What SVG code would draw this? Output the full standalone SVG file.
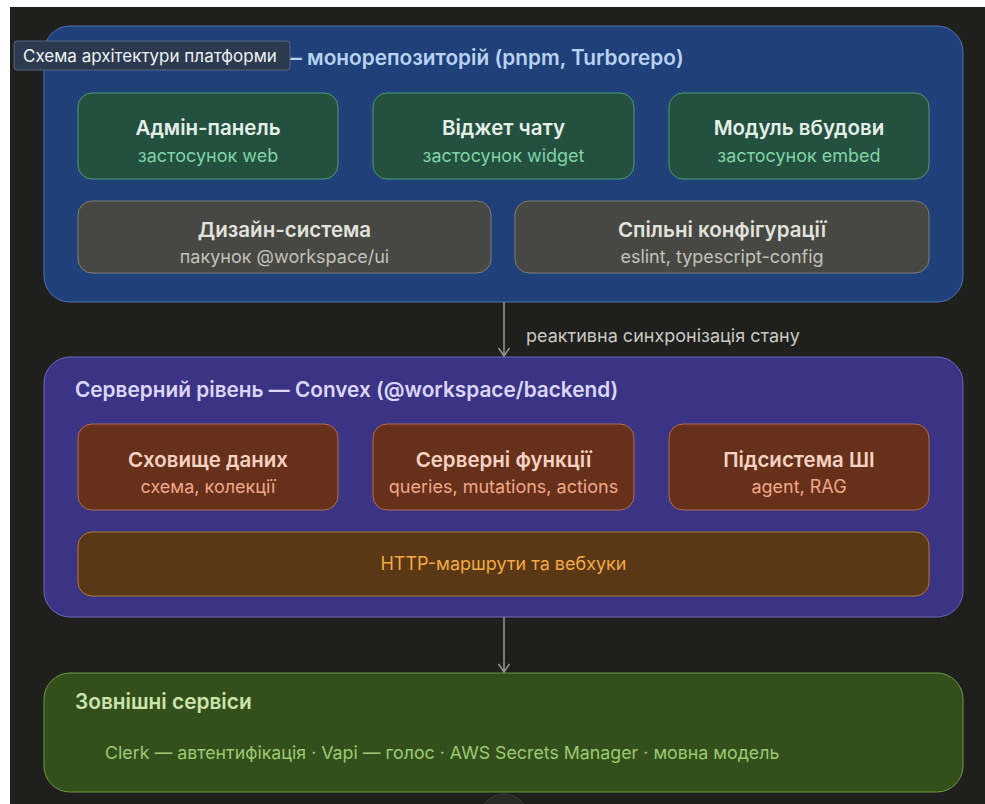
<svg xmlns="http://www.w3.org/2000/svg" width="985" height="804" viewBox="0 0 985 804">
<defs>
<marker id="arr" viewBox="0 0 10 12" refX="9" refY="6" markerWidth="10" markerHeight="12" markerUnits="userSpaceOnUse" orient="auto">
<path d="M1,0.5 L9,6 L1,11.5" fill="none" stroke="#9a9a94" stroke-width="1.5"/>
</marker>
</defs>
<style>
text{font-family:Inter,"Noto Sans",sans-serif}
.ptitle{font-size:20.8px;font-weight:600}
.ntitle{font-size:20.5px;font-weight:600;text-anchor:middle}
.nsub{font-size:18px;text-anchor:middle}
.green rect{fill:#245040;stroke:#4f9a76;stroke-width:1}
.green .ntitle{fill:#e4efe8}
.green .nsub{fill:#7fd4a6}
.gray rect{fill:#474743;stroke:#7e7e78;stroke-width:1}
.gray .ntitle{fill:#e2e2dc}
.gray .nsub{fill:#c2c2ba}
.brown rect{fill:#67301b;stroke:#b06a4c;stroke-width:1}
.brown .ntitle{fill:#f6d2c2}
.brown .nsub{fill:#f0a888}
.edge{stroke:#9a9a94;stroke-width:1.5;fill:none}
</style>
<rect x="0" y="0" width="985" height="804" fill="#ffffff"/>
<rect x="10" y="7" width="975" height="797" fill="#1f1f1e"/>

<g id="frontend">
<rect x="44" y="26" width="919" height="276" rx="26" fill="#1f4078" stroke="#4c74ad" stroke-width="1"/>
<text class="ptitle" x="281" y="65" fill="#b9d2f2">— монорепозиторій (pnpm, Turborepo)</text>
</g>
<g id="admin" class="green">
<rect x="78" y="93" width="260" height="86" rx="14"/>
<text class="ntitle" x="208" y="135">Адмін-панель</text>
<text class="nsub" x="208" y="162">застосунок web</text>
</g>
<g id="widget" class="green">
<rect x="373" y="93" width="261" height="86" rx="14"/>
<text class="ntitle" x="503.5" y="135">Віджет чату</text>
<text class="nsub" x="503.5" y="162">застосунок widget</text>
</g>
<g id="embed" class="green">
<rect x="669" y="93" width="260" height="86" rx="14"/>
<text class="ntitle" x="799" y="135">Модуль вбудови</text>
<text class="nsub" x="799" y="162">застосунок embed</text>
</g>
<g id="ui" class="gray">
<rect x="78" y="201" width="413" height="72" rx="14"/>
<text class="ntitle" x="284.5" y="237">Дизайн-система</text>
<text class="nsub" x="284.5" y="263">пакунок @workspace/ui</text>
</g>
<g id="configs" class="gray">
<rect x="515" y="201" width="414" height="72" rx="14"/>
<text class="ntitle" x="722" y="237">Спільні конфігурації</text>
<text class="nsub" x="722" y="263">eslint, typescript-config</text>
</g>

<g id="backend">
<rect x="44" y="357" width="919" height="260" rx="26" fill="#3b3484" stroke="#6d66b5" stroke-width="1"/>
<text class="ptitle" x="75" y="397" fill="#dcd6fa">Серверний рівень — Convex (@workspace/backend)</text>
</g>
<g id="storage" class="brown">
<rect x="78" y="424" width="260" height="86" rx="14"/>
<text class="ntitle" x="208" y="467">Сховище даних</text>
<text class="nsub" x="208" y="493">схема, колекції</text>
</g>
<g id="functions" class="brown">
<rect x="373" y="424" width="261" height="86" rx="14"/>
<text class="ntitle" x="503.5" y="467">Серверні функції</text>
<text class="nsub" x="503.5" y="493">queries, mutations, actions</text>
</g>
<g id="ai" class="brown">
<rect x="669" y="424" width="260" height="86" rx="14"/>
<text class="ntitle" x="799" y="467">Підсистема ШІ</text>
<text class="nsub" x="799" y="493">agent, RAG</text>
</g>
<g id="http">
<rect x="78" y="532" width="851" height="64" rx="14" fill="#5a3715" stroke="#b07a34" stroke-width="1"/>
<text x="503.5" y="570" font-size="18" text-anchor="middle" fill="#f2aa44">HTTP-маршрути та вебхуки</text>
</g>

<g id="external">
<rect x="44" y="673" width="919" height="119" rx="26" fill="#334f1b" stroke="#6c9a42" stroke-width="1"/>
<text class="ptitle" x="75" y="709" fill="#cce4ac">Зовнішні сервіси</text>
<text x="105" y="759" font-size="17.8" fill="#9cca72">Clerk — автентифікація · Vapi — голос · AWS Secrets Manager · мовна модель</text>
</g>

<g id="connectors">
<line class="edge" x1="504" y1="302" x2="504" y2="356" marker-end="url(#arr)"/>
<text x="526" y="342" font-size="18" fill="#c9c9c1">реактивна синхронізація стану</text>
<line class="edge" x1="504" y1="617" x2="504" y2="672" marker-end="url(#arr)"/>
</g>

<g id="tooltip">
<rect x="14" y="41" width="276" height="29" rx="3" fill="#2b3a4e" stroke="#566880" stroke-width="1"/>
<text x="23" y="62" font-size="17" fill="#eef2f6">Схема архітектури платформи</text>
</g>
<circle cx="504" cy="818" r="24" fill="#2a2a29" stroke="#3a3a38" stroke-width="1"/>
</svg>
